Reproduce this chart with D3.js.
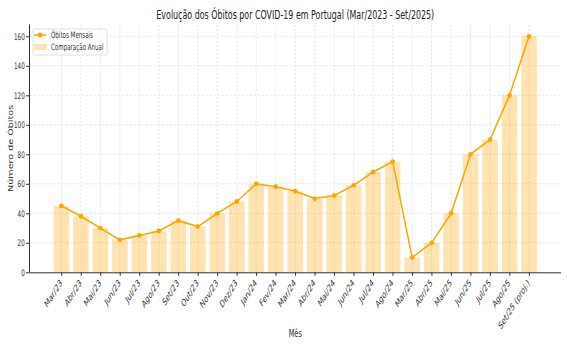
<!DOCTYPE html>
<html>
<head>
<meta charset="utf-8">
<script src="https://cdn.jsdelivr.net/npm/d3@7"></script>
<style>
  html, body { margin: 0; padding: 0; background: #fff; }
  svg { display: block; }
  .ns { vector-effect: non-scaling-stroke; }
</style>
</head>
<body>
<svg id="chart" width="567" height="349"></svg>
<script>
// Months shown on the x axis
const months = ["Mar/23", "Abr/23", "Mai/23", "Jun/23", "Jul/23", "Ago/23", "Set/23", "Out/23",
  "Nov/23", "Dez/23", "Jan/24", "Fev/24", "Mar/24", "Abr/24", "Mai/24", "Jun/24", "Jul/24",
  "Ago/24", "Mar/25", "Abr/25", "Mai/25", "Jun/25", "Jul/25", "Ago/25", "Set/25 (proj.)"];

// Monthly deaths (line) and the yearly comparison (bars)
const obitosMensais = [45, 38, 30, 22, 25, 28, 35, 31, 40, 48, 60, 58, 55, 50, 52, 59, 68, 75,
  10, 20, 40, 80, 90, 120, 160];
const comparacaoAnual = [45, 38, 30, 22, 25, 28, 35, 31, 40, 48, 60, 58, 55, 50, 52, 59, 68, 75,
  10, 20, 40, 80, 90, 120, 160];

const yTicks = [0, 20, 40, 60, 80, 100, 120, 140, 160];

// The figure is laid out on a wide canvas and compressed horizontally to fit the page
const SX = 0.63;
const font = "DejaVu Sans, sans-serif";
const lineColor = "#FFA500";
const ink = "#333";

const svg = d3.select("#chart");
const root = svg.append("g").attr("transform", `scale(${SX},1)`);

const plotL = 29.5 / SX, plotR = 561 / SX, plotT = 24.5, plotB = 272.3;

// Continuous index scale with margins around the outer bars
const x = d3.scaleLinear().domain([-1.64, months.length - 1 + 1.64]).range([plotL, plotR]);
const y = d3.scaleLinear().domain([0, 168]).range([plotB, plotT]);
const barW = x(0.8) - x(0);

// Grid
const grid = root.append("g").attr("stroke", "#dcdcdc").attr("stroke-width", 0.7)
  .attr("stroke-dasharray", "2.5,1.5");
grid.selectAll("line.h").data(yTicks).join("line").attr("class", "h ns")
  .attr("x1", plotL).attr("x2", plotR).attr("y1", d => y(d)).attr("y2", d => y(d));
grid.selectAll("line.v").data(months.map((m, i) => i)).join("line").attr("class", "v ns")
  .attr("y1", plotT).attr("y2", plotB).attr("x1", d => x(d)).attr("x2", d => x(d));

// Bars
root.append("g").selectAll("rect").data(comparacaoAnual).join("rect")
  .attr("x", (d, i) => x(i) - barW / 2)
  .attr("width", barW)
  .attr("y", d => y(d))
  .attr("height", d => y(0) - y(d))
  .attr("fill", lineColor).attr("fill-opacity", 0.3);

// Line with markers
const line = d3.line().x((d, i) => x(i)).y(d => y(d));
root.append("path").datum(obitosMensais).attr("class", "ns")
  .attr("d", line).attr("fill", "none").attr("stroke", lineColor).attr("stroke-width", 1.5);
root.append("g").selectAll("ellipse").data(obitosMensais).join("ellipse")
  .attr("cx", (d, i) => x(i)).attr("cy", d => y(d))
  .attr("rx", 2.4 / SX).attr("ry", 2.4).attr("fill", lineColor);

// Y axis
const yAxis = root.append("g")
  .attr("transform", `translate(${plotL},0)`)
  .call(d3.axisLeft(y).tickValues(yTicks).tickSize(3.5 / SX).tickPadding(2));
yAxis.select(".domain").attr("class", "domain ns").attr("d", `M0,${plotB}V${plotT}`).attr("stroke", ink);
yAxis.selectAll(".tick line").attr("class", "ns").attr("stroke", ink);
yAxis.selectAll("text").attr("font-size", 9).attr("fill", ink).attr("font-family", font);

// X axis
const xAxis = root.append("g")
  .attr("transform", `translate(0,${plotB})`)
  .call(d3.axisBottom(x).tickValues(months.map((m, i) => i)).tickFormat(i => months[i])
    .tickSize(3.5).tickPadding(2));
xAxis.select(".domain").attr("class", "domain ns").attr("d", `M${plotL},0.5H${plotR}`).attr("stroke", ink);
xAxis.selectAll(".tick line").attr("class", "ns").attr("stroke", ink);
xAxis.selectAll("text")
  .attr("font-size", 10).attr("fill", ink).attr("font-family", font)
  .attr("text-anchor", "end")
  .attr("y", 0).attr("dy", "0.75em")
  .attr("transform", "translate(-4,6) rotate(-45)");

// Titles
root.append("text").attr("x", (plotL + plotR) / 2).attr("y", 19)
  .attr("text-anchor", "middle").attr("font-size", 12.6).attr("fill", "#222")
  .attr("font-family", font)
  .text("Evolução dos Óbitos por COVID-19 em Portugal (Mar/2023 - Set/2025)");
root.append("text").attr("x", (plotL + plotR) / 2).attr("y", 337)
  .attr("text-anchor", "middle").attr("font-size", 10.5).attr("fill", ink)
  .attr("font-family", font)
  .text("Mês");
root.append("text").attr("transform", `translate(${12.5 / SX},${(plotT + plotB) / 2}) rotate(-90)`)
  .attr("text-anchor", "middle").attr("font-size", 9.6).attr("fill", ink)
  .attr("font-family", font)
  .text("Número de Óbitos");

// Legend
const lg = root.append("g").attr("transform", `translate(${33 / SX},29)`);
lg.append("rect").attr("class", "ns").attr("width", 74 / SX).attr("height", 26).attr("rx", 2)
  .attr("fill", "#fff").attr("fill-opacity", 0.8).attr("stroke", "#d8d8d8").attr("stroke-width", 0.8);
lg.append("line").attr("class", "ns").attr("x1", 1 / SX).attr("x2", 13.5 / SX).attr("y1", 6).attr("y2", 6)
  .attr("stroke", lineColor).attr("stroke-width", 1.5);
lg.append("ellipse").attr("cx", 7.2 / SX).attr("cy", 6).attr("rx", 2.4 / SX).attr("ry", 2.4).attr("fill", lineColor);
lg.append("rect").attr("x", 1.3 / SX).attr("y", 15).attr("width", 12.4 / SX).attr("height", 6)
  .attr("fill", lineColor).attr("fill-opacity", 0.3);
const legendText = [["Óbitos Mensais", 9], ["Comparação Anual", 21]];
lg.selectAll("text.lbl").data(legendText).join("text").attr("class", "lbl")
  .attr("x", 18 / SX).attr("y", d => d[1]).attr("font-size", 8.8).attr("fill", ink)
  .attr("font-family", font)
  .text(d => d[0]);
</script>
</body>
</html>
